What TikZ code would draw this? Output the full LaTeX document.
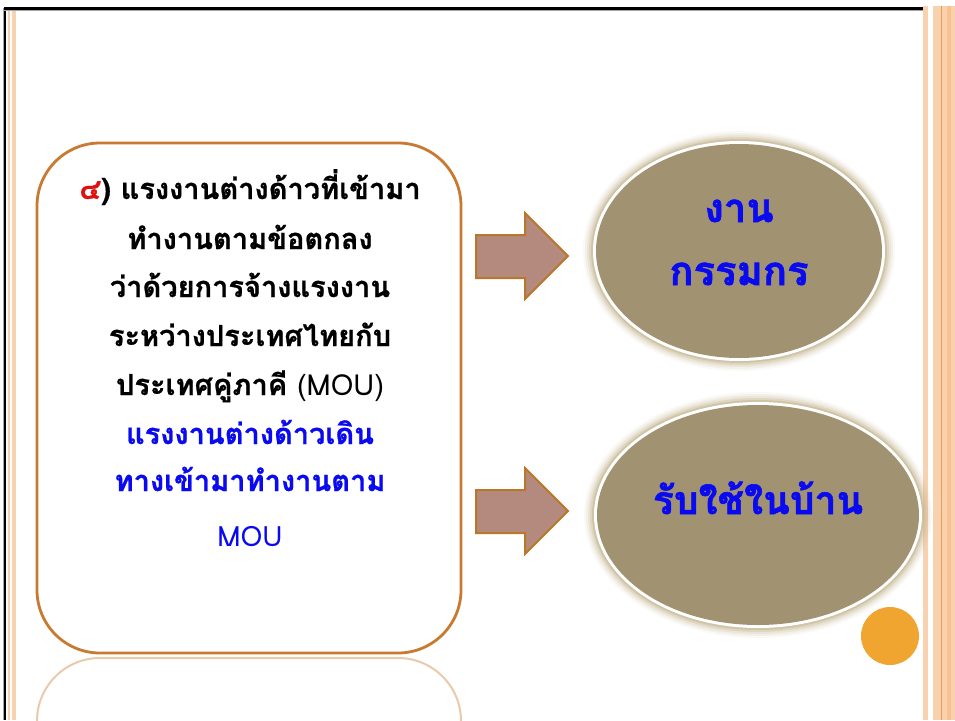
\documentclass[tikz,border=0pt]{standalone}
\usepackage{fontspec}
\newfontfamily\thaifont[Script=Thai]{Loma}
\newfontfamily\thaimid[Script=Thai,FakeBold=0.8]{Loma}
\newfontfamily\thaiheavy[Script=Thai,FakeBold=1.5]{Loma}
\usetikzlibrary{shapes.geometric}
\definecolor{boxline}{HTML}{C87A30}
\definecolor{peach}{HTML}{F8D2B0}
\definecolor{stripeor}{HTML}{E8A050}
\definecolor{arrowfill}{HTML}{B58A7E}
\definecolor{arrowline}{HTML}{B8782A}
\definecolor{ellfill}{HTML}{A19371}
\definecolor{glow}{HTML}{C4B48E}
\definecolor{dotor}{HTML}{F0A530}
\definecolor{txtblue}{HTML}{0A0AF0}
\definecolor{thred}{HTML}{E01010}
\tikzset{
  txtline/.style={font=\thaimid\bfseries\fontsize{29}{32}\selectfont, anchor=base, inner sep=0pt},
  ovaltext/.style={font=\thaiheavy\bfseries\fontsize{40}{44}\selectfont, text=txtblue, anchor=base, inner sep=0pt},
  bigarrow/.style={fill=arrowfill, draw=arrowline, line width=2pt, line join=miter},
}
\begin{document}
\begin{tikzpicture}[x=1pt,y=-1pt]
\useasboundingbox (0,0) rectangle (955,720);
\fill[white] (0,0) rectangle (955,720);
% frame
\draw[gray!70, line width=1pt] (3,8) -- (3,720);
\draw[black, line width=2.4pt] (5,8) -- (5,720);
\draw[black, line width=3pt] (4,8) -- (924,8);
\draw[gray!70, line width=0.8pt] (4,10.5) -- (924,10.5);
\fill[peach] (8,11) rectangle (16,720);
\fill[white] (10,11) rectangle (11.5,720);
% right stripes
\fill[peach] (923,6) rectangle (928,720);
\fill[peach] (933,6) rectangle (955,720);
\fill[peach!80!orange] (947,6) rectangle (951,720);
\draw[stripeor, line width=1pt] (941,6) -- (941,720);
% reflection of box
\begin{scope}
\clip (30,655) rectangle (470,720);
\draw[boxline!40, line width=2pt, rounded corners=63pt] (37,658) rectangle (461,1168);
\end{scope}
% main rounded box
\node[draw=boxline, line width=2.8pt, rounded corners=63pt, minimum width=424pt, minimum height=510pt, fill=white] (box) at (249,398) {};
% box text
\node[txtline] (l1) at (250,199) {\textcolor{thred}{๔}) แรงงานต่างด้าวที่เข้ามา};
\node[txtline] (l2) at (250,249) {ทำงานตามข้อตกลง};
\node[txtline] (l3) at (250,297) {ว่าด้วยการจ้างแรงงาน};
\node[txtline] (l4) at (250,346) {ระหว่างประเทศไทยกับ};
\node[txtline] (l5) at (250,395) {ประเทศคู่ภาคี {\thaifont\mdseries(MOU)}};
\node[txtline, text=txtblue] (l6) at (250,444) {แรงงานต่างด้าวเดิน};
\node[txtline, text=txtblue] (l7) at (250,491) {ทางเข้ามาทำงานตาม};
\node[txtline, text=txtblue, font=\thaifont\fontsize{28}{30}\selectfont] (l8) at (250,546) {MOU};
% arrows
\draw[bigarrow] (476,235) -- (525,235) -- (525,213) -- (568,256) -- (525,299) -- (525,278) -- (476,278) -- cycle;
\draw[bigarrow] (476,490) -- (525,490) -- (525,468) -- (568,511) -- (525,554) -- (525,533) -- (476,533) -- cycle;
% ellipse 1
\foreach \d/\o in {10/0.08,8/0.12,6/0.18,4/0.3,2/0.5}{
  \fill[glow, opacity=\o] (739,251) ellipse ({146+\d} and {110+\d});
}
\fill[white] (739,251) ellipse (146 and 110);
\node[ellipse, fill=ellfill, minimum width=286pt, minimum height=214pt, inner sep=0pt] (e1) at (739,251) {};
\node[ovaltext] (t1a) at (739,222) {งาน};
\node[ovaltext] (t1b) at (739,285) {กรรมกร};
% ellipse 2
\foreach \d/\o in {10/0.08,8/0.12,6/0.18,4/0.3,2/0.5}{
  \fill[glow, opacity=\o] (758,515) ellipse ({164+\d} and {113+\d});
}
\fill[white] (758,515) ellipse (164 and 113);
\node[ellipse, fill=ellfill, minimum width=322pt, minimum height=220pt, inner sep=0pt] (e2) at (758,515) {};
\node[ovaltext, font=\thaiheavy\bfseries\fontsize{39}{42}\selectfont] (t2) at (758,514) {รับใช้ในบ้าน};
% orange dot
\node[circle, fill=dotor, minimum size=58pt, inner sep=0pt] (dot) at (890,636) {};
\end{tikzpicture}
\end{document}
